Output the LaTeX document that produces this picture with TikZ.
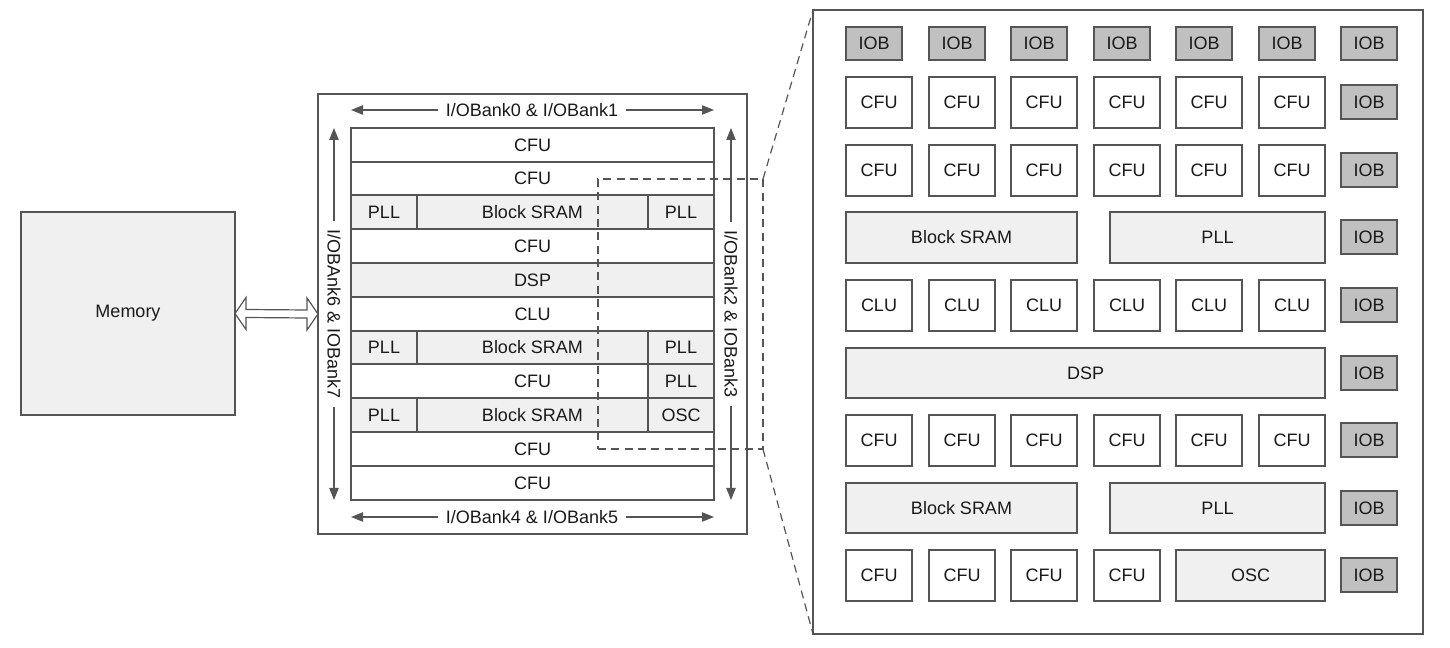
\documentclass[tikz,border=0pt]{standalone}
\usepackage{fontspec}
\setmainfont{Liberation Sans}
\usetikzlibrary{arrows.meta,calc}
\definecolor{ln}{HTML}{555555}
\definecolor{lg}{HTML}{F0F0F0}
\definecolor{dg}{HTML}{C0C0C0}
\definecolor{tx}{HTML}{1A1A1A}
\newcommand\cellbox[7]{%
  \pgfmathsetmacro\cbx{((#2)+(#4))/2}%
  \pgfmathsetmacro\cby{((#3)+(#5))/2}%
  \pgfmathsetmacro\cbw{((#4)-(#2))*0.75}%
  \pgfmathsetmacro\cbh{((#5)-(#3))*0.75}%
  \node[#6, minimum width=\cbw pt, minimum height=\cbh pt] (#1) at (\cbx,\cby) {#7};}
\begin{document}
\begin{tikzpicture}[x=0.75pt,y=-0.75pt,
  box/.style={draw=ln, line width=1pt, inner sep=0pt, outer sep=0pt, font=\fontsize{13.5}{16}\selectfont, text=tx},
  wbox/.style={box, fill=white},
  gbox/.style={box, fill=lg},
  iob/.style={box, fill=dg},
  lbl/.style={font=\fontsize{13.5}{16}\selectfont, text=tx, inner sep=6pt},
  arr/.style={draw=ln, line width=0.9pt, -{Triangle[length=9pt,width=7pt]}},
  dsh/.style={draw=ln, line width=0.9pt, dash pattern=on 6pt off 4pt}]
\useasboundingbox (0,0) rectangle (1450,648);

% memory
\cellbox{mem}{21}{212}{235}{415}{gbox}{Memory}

% chip overview
\cellbox{chip}{318}{94}{747}{534}{wbox}{}
\cellbox{m1}{351}{128}{714}{162}{wbox}{CFU}
\cellbox{m2}{351}{162}{714}{195}{wbox}{CFU}
\cellbox{m3a}{351}{195}{417}{229}{gbox}{PLL}
\cellbox{m3b}{417}{195}{648}{229}{gbox}{Block SRAM}
\cellbox{m3c}{648}{195}{714}{229}{gbox}{PLL}
\cellbox{m4}{351}{229}{714}{263}{wbox}{CFU}
\cellbox{m5}{351}{263}{714}{297}{gbox}{DSP}
\cellbox{m6}{351}{297}{714}{331}{wbox}{CLU}
\cellbox{m7a}{351}{331}{417}{364}{gbox}{PLL}
\cellbox{m7b}{417}{331}{648}{364}{gbox}{Block SRAM}
\cellbox{m7c}{648}{331}{714}{364}{gbox}{PLL}
\cellbox{m8a}{351}{364}{714}{398}{wbox}{CFU}
\cellbox{m8b}{648}{364}{714}{398}{gbox}{PLL}
\cellbox{m9a}{351}{398}{417}{432}{gbox}{PLL}
\cellbox{m9b}{417}{398}{648}{432}{gbox}{Block SRAM}
\cellbox{m9c}{648}{398}{714}{432}{gbox}{OSC}
\cellbox{m10}{351}{432}{714}{466}{wbox}{CFU}
\cellbox{m11}{351}{466}{714}{500}{wbox}{CFU}

% bank labels and arrows
\node[lbl] (tlab) at (532,110) {I/OBank0 \& I/OBank1};
\coordinate (tl) at (351,110); \coordinate (tr) at (714,110);
\draw[arr] (tlab) -- (tl); \draw[arr] (tlab) -- (tr);
\node[lbl] (blab) at (532,517) {I/OBank4 \& I/OBank5};
\coordinate (bl) at (351,517); \coordinate (br) at (714,517);
\draw[arr] (blab) -- (bl); \draw[arr] (blab) -- (br);
\node[lbl, rotate=-90] (llab) at (334,314) {I/OBAnk6 \& IOBank7};
\coordinate (lt) at (334,128); \coordinate (lb) at (334,500);
\draw[arr] (llab) -- (lt); \draw[arr] (llab) -- (lb);
\node[lbl, rotate=-90] (rlab) at (731,314) {I/OBank2 \& IOBank3};
\coordinate (rt) at (731,128); \coordinate (rb) at (731,500);
\draw[arr] (rlab) -- (rt); \draw[arr] (rlab) -- (rb);

% double arrow memory <-> chip
\draw[draw=ln, fill=white, line width=0.9pt]
  (mem.east) -- ++(11,-16) -- ++(0,12) -- ($(chip.west)+(-11,-4)$) -- ++(0,-12)
  -- (chip.west) -- ++(-11,16) -- ++(0,-12) -- ($(mem.east)+(11,4)$) -- ++(0,12) -- cycle;

% detail view
\cellbox{big}{813}{10}{1423}{634}{wbox}{}
\cellbox{zm}{598}{179}{763}{449}{dsh, inner sep=0pt, outer sep=0pt}{}
\draw[dsh] (zm.north east) -- (big.north west);
\draw[dsh] (zm.south east) -- (big.south west);

\foreach \c/\x in {1/846,2/929,3/1011,4/1094,5/1176,6/1259,7/1341}
  {\cellbox{t\c}{\x}{27}{\x+56}{60}{iob}{IOB}}
\foreach \r/\y/\t in {1/77/CFU,2/145/CFU,4/280/CLU,6/415/CFU}
  \foreach \c/\x in {1/846,2/929,3/1011,4/1094,5/1176,6/1259}
    {\cellbox{g\r-\c}{\x}{\y}{\x+66}{\y+51}{wbox}{\t}}
\foreach \c/\x in {1/846,2/929,3/1011,4/1094}
  {\cellbox{g8-\c}{\x}{550}{\x+66}{601}{wbox}{CFU}}
\cellbox{g3a}{846}{212}{1077}{263}{gbox}{Block SRAM}
\cellbox{g3b}{1110}{212}{1325}{263}{gbox}{PLL}
\cellbox{g5}{846}{348}{1325}{398}{gbox}{DSP}
\cellbox{g7a}{846}{483}{1077}{533}{gbox}{Block SRAM}
\cellbox{g7b}{1110}{483}{1325}{533}{gbox}{PLL}
\cellbox{g8b}{1176}{550}{1325}{601}{gbox}{OSC}
\foreach \r/\y in {1/77,2/145,3/212,4/280,5/348,6/415,7/483,8/550}
  {\cellbox{s\r}{1341}{\y+8}{1397}{\y+42}{iob}{IOB}}
\end{tikzpicture}
\end{document}
